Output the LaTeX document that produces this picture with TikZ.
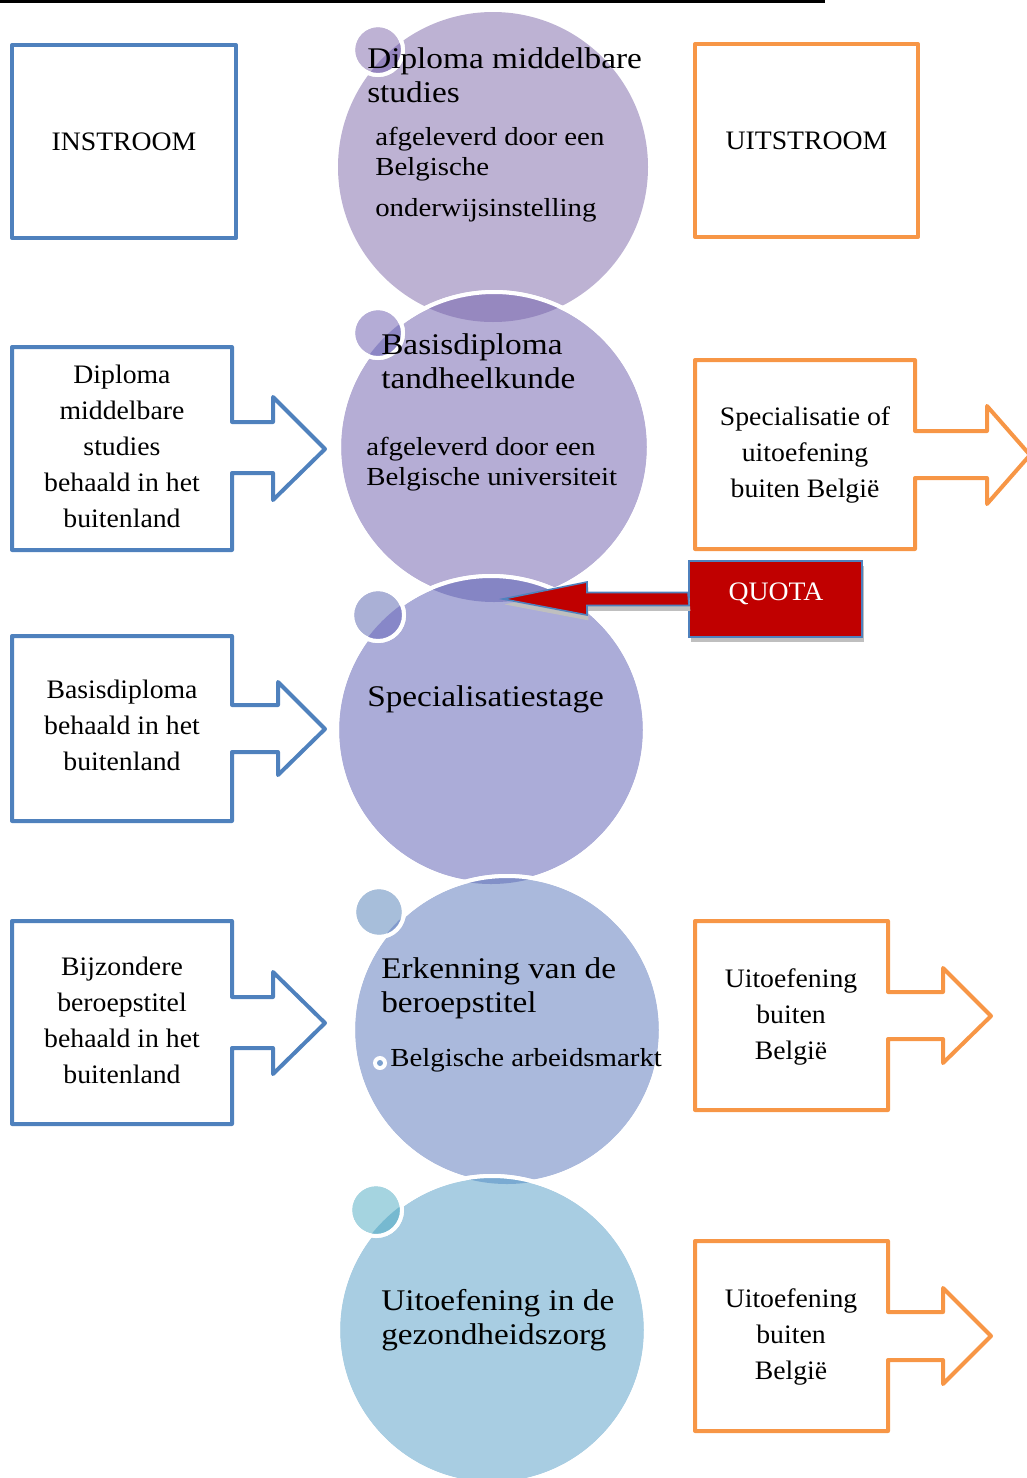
\documentclass[tikz,border=0pt]{standalone}
\usepackage{fontspec}
\setmainfont{Liberation Serif}[FakeStretch=1.04]
\newfontfamily\circfont{Liberation Serif}[FakeStretch=1.11]
\usetikzlibrary{shadows}

\definecolor{inblue}{HTML}{4F81BD}
\definecolor{outorange}{HTML}{F79646}
\definecolor{quotared}{HTML}{C00000}
\definecolor{cA}{HTML}{BDB2D3}
\definecolor{cB}{HTML}{B5ADD5}
\definecolor{cC}{HTML}{ABACD8}
\definecolor{cD}{HTML}{AAB9DC}
\definecolor{cE}{HTML}{A8CDE2}
\definecolor{cAB}{HTML}{9688BF}
\definecolor{cBC}{HTML}{8585C4}
\definecolor{cCD}{HTML}{8290C8}
\definecolor{cDE}{HTML}{7AAAD2}
\definecolor{sA}{HTML}{BEB2D4}
\definecolor{sB}{HTML}{B4ACD6}
\definecolor{sC}{HTML}{AAB0D6}
\definecolor{sD}{HTML}{A7BEDA}
\definecolor{sE}{HTML}{A5D4E0}
\definecolor{dA}{HTML}{9484BE}
\definecolor{dB}{HTML}{8C86C4}
\definecolor{dC}{HTML}{8787C8}
\definecolor{dD}{HTML}{829BCD}
\definecolor{dE}{HTML}{76B9D0}

\newcommand{\headfont}{\circfont\fontsize{22.5}{25.5}\selectfont}
\newcommand{\subfont}{\circfont\fontsize{19.5}{22.5}\selectfont}
\newcommand{\boxfont}{\fontsize{20}{27}\selectfont}

\tikzset{
  inbox/.style={draw=inblue, line width=3pt, line join=round},
  outbox/.style={draw=outorange, line width=3pt, line join=round},
  ring/.style={draw=white, line width=3pt},
  boxtext/.style={align=center, inner sep=0pt, font=\boxfont},
  headtext/.style={align=left, inner sep=0pt, font=\headfont, anchor=north west},
  subtext/.style={align=left, inner sep=0pt, font=\subfont},
}

\begin{document}
\begin{tikzpicture}[x=0.75pt,y=-0.75pt]
   \useasboundingbox (0,0) rectangle (1026,1478);
   \draw[line width=2.25pt] (0,1.5) -- (825,1.5);

   % circles
   \fill[cA] (493,167) circle (155);
   \draw[ring,fill=sA] (378,50) circle (25);
   \begin{scope} \clip (493,167) circle (155); \fill[dA] (378,50) circle (25); \end{scope}
   \draw[ring] (378,50) circle (25);

   \draw[ring,fill=cB] (494,447) circle (155);
   \begin{scope} \clip (493,167) circle (155); \fill[cAB] (494,447) circle (155); \end{scope}
   \draw[ring] (494,447) circle (155);
   \draw[ring,fill=sB] (378,333) circle (25);
   \begin{scope} \clip (494,447) circle (155); \fill[dB] (378,333) circle (25); \end{scope}
   \draw[ring] (378,333) circle (25);

   \draw[ring,fill=cC] (491,730) circle (154);
   \begin{scope} \clip (494,447) circle (155); \fill[cBC] (491,730) circle (154); \end{scope}
   \draw[ring] (491,730) circle (154);
   \draw[ring,fill=sC] (378,615) circle (26);
   \begin{scope} \clip (491,730) circle (154); \fill[dC] (378,615) circle (26); \end{scope}
   \draw[ring] (378,615) circle (26);

   \draw[ring,fill=cD] (507,1030) circle (154);
   \begin{scope} \clip (491,730) circle (154); \fill[cCD] (507,1030) circle (154); \end{scope}
   \draw[ring] (507,1030) circle (154);
   \draw[ring,fill=sD] (379,912) circle (25);
   \begin{scope} \clip (507,1030) circle (154); \fill[dD] (379,912) circle (25); \end{scope}
   \draw[ring] (379,912) circle (25);

   \draw[ring,fill=cE] (492,1330) circle (154);
   \begin{scope} \clip (507,1030) circle (154); \fill[cDE] (492,1330) circle (154); \end{scope}
   \draw[ring] (492,1330) circle (154);
   \draw[ring,fill=sE] (376,1210) circle (26);
   \begin{scope} \clip (492,1330) circle (154); \fill[dE] (376,1210) circle (26); \end{scope}
   \draw[ring] (376,1210) circle (26);

   % circle texts
   \node[headtext] (secundair) at (367,47) {Diploma middelbare\\studies};
   \node[subtext,anchor=north west] (secundairsub) at (375,127) {afgeleverd door een\\Belgische};
   \node[subtext,anchor=base west] (secundairinst) at (375,216) {onderwijsinstelling};
   \node[headtext] (basis) at (381,333) {Basisdiploma\\tandheelkunde};
   \node[subtext,anchor=north west] (basissub) at (366,437) {afgeleverd door een\\Belgische universiteit};
   \node[headtext,anchor=base west] (stage) at (367,706) {Specialisatiestage};
   \node[headtext] (erkenning) at (381,957) {Erkenning van de\\beroepstitel};
   \fill[white] (380,1063) circle (7);
   \fill[inblue!75] (380,1063) circle (3);
   \node[subtext,anchor=base west] (markt) at (390,1066) {Belgische arbeidsmarkt};
   \node[headtext] (zorg) at (381,1289) {Uitoefening in de\\gezondheidszorg};

   % instroom
   \node[inbox, minimum width=168pt, minimum height=144.75pt, font=\boxfont] (instroom) at (124,141.5) {INSTROOM};
   \draw[inbox] (12,347) -- (232,347) -- (232,422) -- (273,422) -- (273,397) -- (325,449)
      -- (273,500) -- (273,473) -- (232,473) -- (232,550) -- (12,550) -- cycle;
   \node[boxtext,anchor=north] (insecundair) at (122,365) {Diploma\\middelbare\\studies\\behaald in het\\buitenland};
   \draw[inbox] (12,636) -- (232,636) -- (232,705) -- (278,705) -- (278,682) -- (325,729)
      -- (278,775) -- (278,752) -- (232,752) -- (232,821) -- (12,821) -- cycle;
   \node[boxtext,anchor=north] (inbasis) at (122,680) {Basisdiploma\\behaald in het\\buitenland};
   \draw[inbox] (12,921) -- (232,921) -- (232,997) -- (273,997) -- (273,972) -- (325,1023)
      -- (273,1074) -- (273,1048) -- (232,1048) -- (232,1124) -- (12,1124) -- cycle;
   \node[boxtext,anchor=north] (intitel) at (122,957) {Bijzondere\\beroepstitel\\behaald in het\\buitenland};

   % uitstroom
   \node[outbox, minimum width=167.25pt, minimum height=144.75pt, font=\boxfont] (uitstroom) at (806.5,140.5) {UITSTROOM};
   \draw[outbox] (695,360) -- (915,360) -- (915,431) -- (987,431) -- (987,406) -- (1030,455)
      -- (987,504) -- (987,478) -- (915,478) -- (915,549) -- (695,549) -- cycle;
   \node[boxtext,anchor=north] (uitspec) at (805,406) {Specialisatie of\\uitoefening\\buiten België};
   \draw[outbox] (695,921) -- (888,921) -- (888,992) -- (943,992) -- (943,968) -- (991,1016)
      -- (943,1063) -- (943,1039) -- (888,1039) -- (888,1110) -- (695,1110) -- cycle;
   \node[boxtext,anchor=north] (uiterk) at (791,968) {Uitoefening\\buiten\\België};
   \draw[outbox] (695,1241) -- (888,1241) -- (888,1312) -- (943,1312) -- (943,1288) -- (991,1336)
      -- (943,1384) -- (943,1360) -- (888,1360) -- (888,1431) -- (695,1431) -- cycle;
   \node[boxtext,anchor=north] (uitzorg) at (791,1288) {Uitoefening\\buiten\\België};

   % quota
   \coordinate (quotatip) at (503,599);
   \node[draw=inblue, fill=quotared, line width=1.5pt, minimum width=129.75pt, minimum height=57pt,
      drop shadow={shadow xshift=1.5pt, shadow yshift=-4pt, fill=black!25, opacity=1}] (quota) at (775.5,599) {};
   \filldraw[draw=inblue, fill=quotared, line width=1.2pt,
      drop shadow={shadow xshift=1pt, shadow yshift=-4pt, fill=black!25, opacity=1}]
      (quota.west) ++(0,-6.5) -- (587,592.5) -- (587,582) -- (quotatip) -- (587,615) -- (587,605.5)
      -- ++(102,0) -- cycle;
   \node[white, inner sep=0pt, font=\boxfont, anchor=base] (quotatext) at (776,600) {QUOTA};
\end{tikzpicture}
\end{document}
